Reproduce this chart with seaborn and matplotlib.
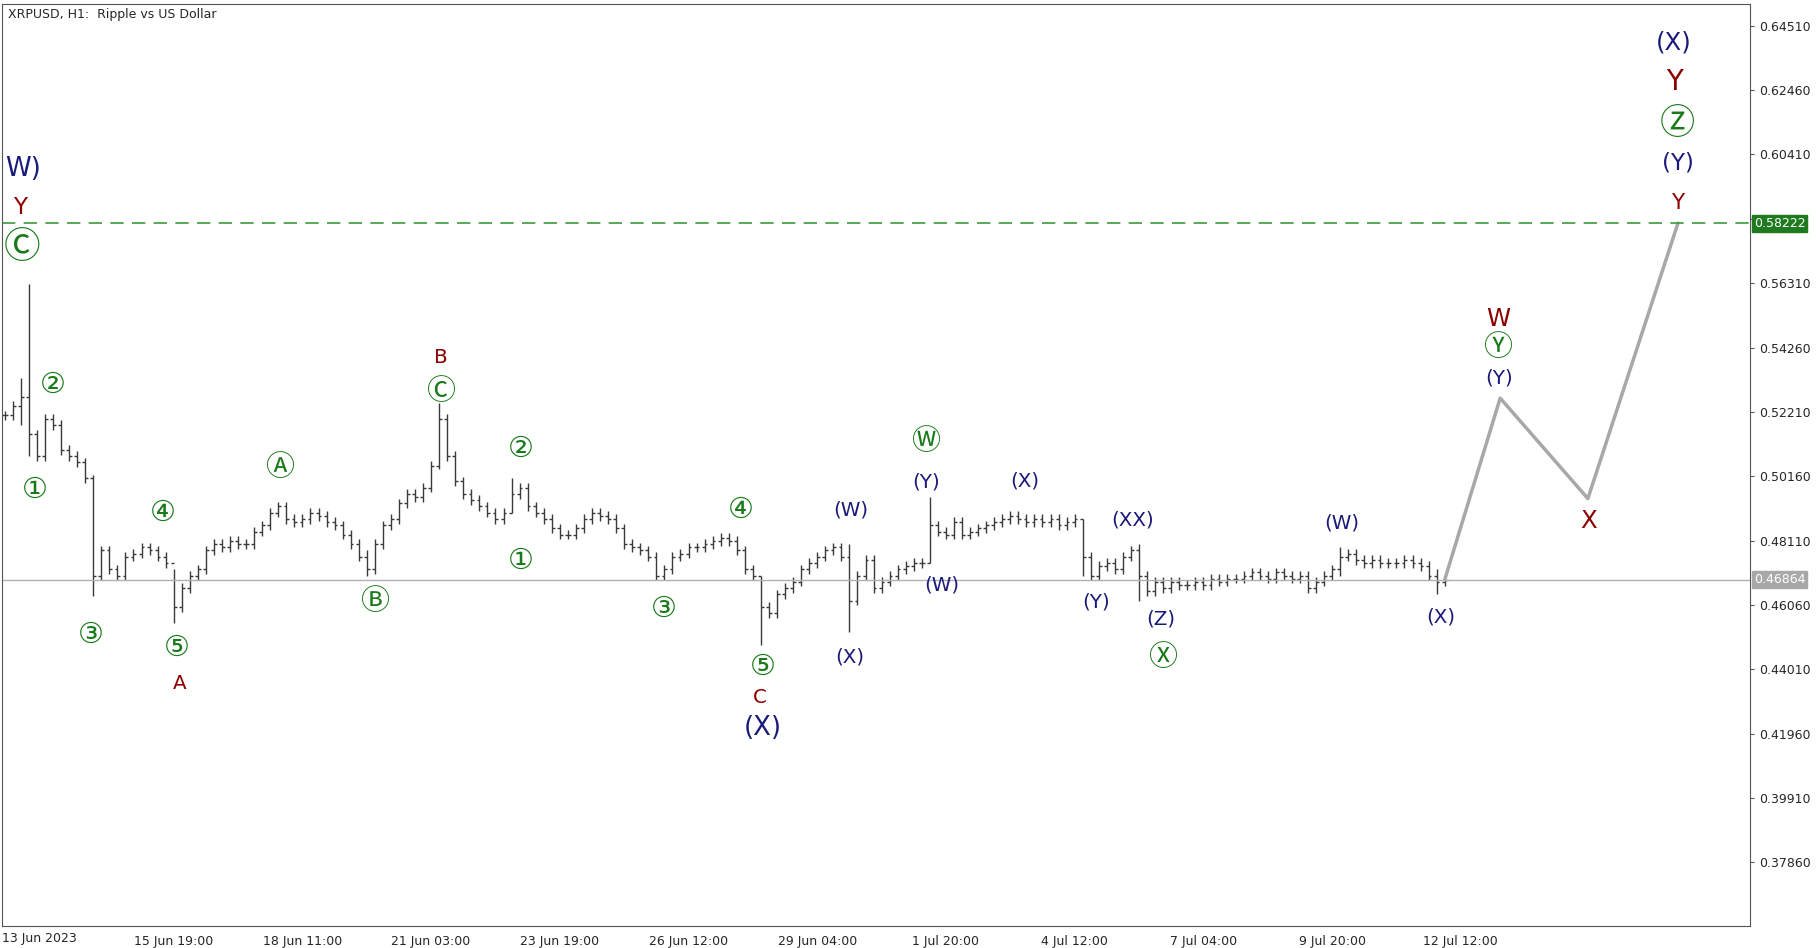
import matplotlib
matplotlib.use("Agg")
import matplotlib.pyplot as plt
import matplotlib.transforms as mtransforms
import seaborn as sns
import numpy as np
import pandas as pd

sns.set_style("white")
plt.rcParams['font.family'] = ['DejaVu Sans', 'Noto Sans CJK JP']

# 4-hour bar closes (x 0.0001)
closes = [5210,5240,5270,5150,5080,5200,5180,5100,5080,5060,5010,4700,4780,4720,4700,4760,4770,4790,4780,4760,
          4740,4600,4660,4700,4720,4780,4800,4790,4810,4800,4800,4840,4860,4900,4920,4880,4870,4880,4900,4890,
          4870,4860,4830,4800,4760,4720,4800,4860,4880,4930,4960,4950,4980,5050,5200,5080,5000,4960,4940,4920,
          4900,4880,4900,4960,4980,4920,4900,4880,4850,4830,4830,4850,4880,4900,4890,4880,4850,4800,4790,4780,
          4760,4700,4720,4760,4770,4790,4790,4800,4810,4820,4810,4780,4720,4700,4600,4580,4640,4660,4680,4720,
          4740,4760,4780,4790,4760,4620,4700,4750,4660,4680,4700,4720,4730,4740,4740,4860,4840,4830,4870,4830,
          4840,4850,4860,4870,4880,4890,4880,4870,4880,4870,4880,4860,4870,4880,4760,4700,4730,4740,4720,4760,
          4780,4700,4650,4680,4660,4680,4670,4670,4680,4670,4690,4680,4690,4690,4700,4710,4700,4690,4710,4700,
          4690,4700,4660,4680,4700,4720,4760,4770,4750,4740,4750,4740,4740,4740,4750,4740,4730,4700,4680,4686]
# notable bar extremes: index -> (high, low)
extremes = {3: (5630, 5080), 11: (5020, 4635), 21: (4720, 4550), 45: (4780, 4700), 54: (5250, 5040),
            94: (4700, 4480), 105: (4800, 4520), 115: (4950, 4740), 134: (4880, 4700), 141: (4800, 4620),
            166: (4790, 4700), 178: (4720, 4640), 63: (5010, 4900), 2: (5330, 5180)}
proj_x = [179, 185.9, 196.8, 208.0]
proj_y = [0.46864, 0.5265, 0.4945, 0.58222]
date_labels = ["15 Jun 19:00", "18 Jun 11:00", "21 Jun 03:00", "23 Jun 19:00", "26 Jun 12:00",
               "29 Jun 04:00", "1 Jul 20:00", "4 Jul 12:00", "7 Jul 04:00", "9 Jul 20:00", "12 Jul 12:00"]
price_ticks = [0.37860, 0.39910, 0.41960, 0.44010, 0.46060, 0.48110, 0.50160, 0.52210,
               0.54260, 0.56310, 0.58360, 0.60410, 0.62460, 0.64510]

c = np.array(closes) / 10000.0
o = np.concatenate([[c[0]], c[:-1]])
hi = np.maximum(o, c) + 0.0015
lo = np.minimum(o, c) - 0.0015
for k, (h, l) in extremes.items():
    hi[k] = h / 10000.0
    lo[k] = l / 10000.0
idx = np.arange(len(c))

W, H = 1818, 948
fig = plt.figure(figsize=(W/100, H/100), dpi=100)
ax = fig.add_axes([0.0013, 0.023, 0.9615, 0.973])

bc = "#3a3a3a"
ax.vlines(idx, lo, hi, color=bc, lw=1.0)
ax.hlines(o, idx - 0.35, idx, color=bc, lw=1.0)
ax.hlines(c, idx, idx + 0.35, color=bc, lw=1.0)

df = pd.DataFrame({"x": proj_x, "y": proj_y})
sns.lineplot(data=df, x="x", y="y", ax=ax, color="#a8a8a8", lw=2.5, sort=False)

ax.axhline(0.58222, color="#3c9a3c", ls=(0, (8, 5)), lw=1.2)
ax.axhline(0.46864, color="#b0b0b0", lw=1.0)

ax.set_xlim(-0.3, 217)
ax.set_ylim(0.3583, 0.6521)
ax.yaxis.tick_right()
ax.set_yticks(price_ticks)
ax.set_yticklabels(["" if abs(v - 0.58360) < 1e-6 else f"{v:.5f}" for v in price_ticks], fontsize=9)
ax.set_xticks([21 + 16*k for k in range(len(date_labels))])
ax.set_xticklabels(date_labels, fontsize=9)
ax.tick_params(axis='both', length=3, color="#555")
ax.set_xlabel(""); ax.set_ylabel("")
for s in ax.spines.values():
    s.set_color("#555"); s.set_linewidth(0.8)
ax.text(0, -0.006, "13 Jun 2023", transform=ax.transAxes, fontsize=9, va="top", ha="left")

tr = mtransforms.blended_transform_factory(ax.transAxes, ax.transData)
ax.text(1.002, 0.58222, "0.58222", transform=tr, fontsize=9, color="white", va="center", ha="left",
        bbox=dict(boxstyle="square,pad=0.15", fc="#1f7a1f", ec="#1f7a1f"))
ax.text(1.002, 0.46864, "0.46864", transform=tr, fontsize=9, color="white", va="center", ha="left",
        bbox=dict(boxstyle="square,pad=0.15", fc="#a8a8a8", ec="#a8a8a8"))

ax.text(0.003, 0.995, "XRPUSD, H1:  Ripple vs US Dollar", transform=ax.transAxes, fontsize=9,
        va="top", ha="left")

G, R, N = "#1a7a1a", "#8b0000", "#1a1a7a"
labels = [
    ("W)", 18, 145, N, 17), ("Y", 15, 178, R, 15), ("Ⓒ", 17, 212, G, 24),
    ("②", 43, 330, G, 19), ("①", 28, 420, G, 19), ("③", 76, 545, G, 19), ("④", 138, 440, G, 19),
    ("⑤", 150, 556, G, 19), ("A", 152, 587, R, 13), ("Ⓐ", 238, 402, G, 19), ("Ⓑ", 319, 517, G, 19),
    ("B", 376, 307, R, 13), ("Ⓒ", 376, 336, G, 19), ("②", 445, 385, G, 19), ("①", 445, 481, G, 19),
    ("③", 567, 523, G, 19), ("④", 633, 438, G, 19), ("⑤", 652, 572, G, 19), ("C", 650, 599, R, 13),
    ("(X)", 652, 625, N, 17), ("(W)", 728, 438, N, 13), ("(X)", 727, 564, N, 13), ("Ⓦ", 792, 379, G, 19),
    ("(Y)", 792, 414, N, 13), ("(W)", 806, 502, N, 13), ("(X)", 877, 413, N, 13), ("(XX)", 969, 446, N, 13),
    ("(Y)", 938, 517, N, 13), ("(Z)", 994, 531, N, 13), ("Ⓧ", 995, 565, G, 19), ("(W)", 1149, 449, N, 13),
    ("(X)", 1234, 530, N, 13), ("W", 1283, 274, R, 16), ("Ⓨ", 1282, 299, G, 19), ("(Y)", 1284, 324, N, 13),
    ("X", 1361, 447, R, 16), ("Y", 1437, 174, R, 14), ("(Y)", 1437, 140, N, 15), ("Ⓩ", 1437, 106, G, 23),
    ("Y", 1434, 70, R, 18), ("(X)", 1434, 36, N, 16),
]
for t, px, py, col, fs in labels:
    ax.text((px - 2) / 6.9, 0.6451 - (py - 22) * 0.000371, t, color=col, fontsize=fs * 1.1,
            ha="center", va="center")

fig.savefig("out.png", dpi=100)
